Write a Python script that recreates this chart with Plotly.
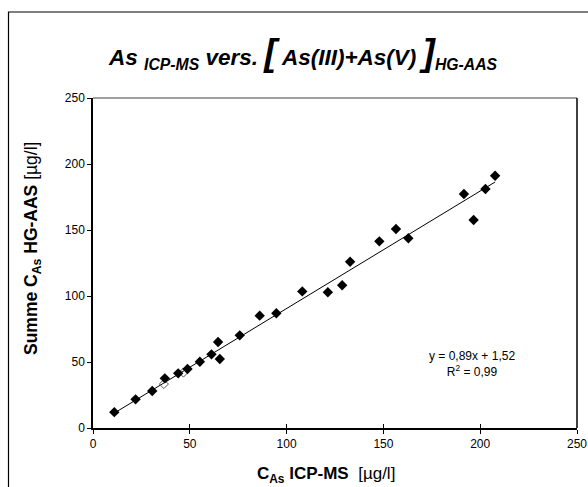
import plotly.graph_objects as go

# values
icp_ms = [11, 22, 30.6, 37.1, 44, 48.8, 55.2, 61.2, 64.6, 65.5, 75.8, 86.1, 94.7,
          108.1, 121.3, 128.7, 132.8, 147.9, 156.5, 162.9, 191.6, 196.6, 202.7, 207.7]
hg_aas = [12, 21.7, 28, 37.6, 41.4, 44.7, 50.2, 55.8, 65.2, 52.3, 70.2, 85.1, 86.9,
          103.5, 102.8, 108.1, 126, 141.4, 150.8, 143.7, 177.3, 157.6, 181.1, 191.1]
# two markers that are mostly covered in the original
faint_x = [36.6, 46.7]
faint_y = [33.3, 42]

slope = 0.89
intercept = 1.52
r_squared = 0.99

x_ticks = [0, 50, 100, 150, 200, 250]
y_ticks = [0, 50, 100, 150, 200, 250]

font_family = "Arial, Liberation Sans, sans-serif"
width, height = 588, 487
margin = dict(l=93, r=11, t=98, b=59)
plot_w = width - margin['l'] - margin['r']
plot_h = height - margin['t'] - margin['b']


def px_x(p):
    # window pixel -> paper x
    return (p - margin['l']) / plot_w


def px_y(p):
    # window pixel -> paper y
    return (height - margin['b'] - p) / plot_h


def fmt(v):
    return f"{v:.2f}".replace('.', ',')


trend_x = [min(icp_ms), max(icp_ms)]
trend_y = [slope * v + intercept for v in trend_x]

fig = go.Figure()
fig.add_trace(go.Scatter(x=trend_x, y=trend_y, mode='lines',
                         line=dict(color='black', width=1), showlegend=False,
                         hoverinfo='skip'))
fig.add_trace(go.Scatter(x=faint_x, y=faint_y, mode='markers',
                         marker=dict(symbol='diamond-open', size=7, color='#555555',
                                     line=dict(width=1)),
                         showlegend=False))
fig.add_trace(go.Scatter(x=icp_ms, y=hg_aas, mode='markers',
                         marker=dict(symbol='diamond', size=8, color='black'),
                         showlegend=False))
# empty trace on a second x axis to draw the inner half of the crossing ticks
fig.add_trace(go.Scatter(x=[None], y=[None], xaxis='x2', showlegend=False))

title = ("<b><i>As <sub>ICP-MS</sub> vers. "
         "<span style='font-size:37px'>[</span> As(III)+As(V) "
         "<span style='font-size:37px'>]</span><sub>HG-AAS</sub></i></b>")

fig.update_layout(
    width=width, height=height, margin=margin,
    paper_bgcolor='white', plot_bgcolor='white',
    font=dict(family=font_family, color='black', size=12),
    xaxis=dict(range=[0, 250], tickvals=x_ticks, ticks='outside', ticklen=4,
               tickcolor='black', showline=True, linecolor='black', linewidth=1.5,
               showgrid=False, zeroline=False, tickfont=dict(size=12),
               automargin=False),
    xaxis2=dict(range=[0, 250], tickvals=x_ticks, ticks='inside', ticklen=4,
                tickcolor='black', overlaying='x', side='bottom', showticklabels=False,
                showgrid=False, zeroline=False, showline=False, automargin=False),
    yaxis=dict(range=[0, 250], tickvals=y_ticks, ticks='outside', ticklen=4,
               tickcolor='black', showline=True, linecolor='black', linewidth=1.5,
               showgrid=False, zeroline=False, tickfont=dict(size=12),
               automargin=False),
    annotations=[
        dict(text=title, xref='paper', yref='paper', showarrow=False,
             x=px_x(303), y=px_y(53), xanchor='center', yanchor='middle',
             font=dict(size=22.5)),
        dict(text="<b>C<sub>As</sub> ICP-MS</b>  [µg/l]", xref='paper', yref='paper',
             showarrow=False, x=px_x(326), y=px_y(475), xanchor='center',
             yanchor='middle', font=dict(size=17)),
        dict(text="<b>Summe C<sub>As</sub> HG-AAS</b> [µg/l]", xref='paper', yref='paper',
             showarrow=False, x=px_x(33), y=px_y(249), xanchor='center',
             yanchor='middle', textangle=-90, font=dict(size=17.5)),
        dict(text=f"y = {fmt(slope)}x + {fmt(intercept)}<br>R<sup>2</sup> = {fmt(r_squared)}",
             xref='paper', yref='paper', showarrow=False, align='center',
             x=px_x(472), y=px_y(364), xanchor='center', yanchor='middle',
             font=dict(size=12)),
    ],
    shapes=[
        # top and right border of the plot area
        dict(type='line', xref='paper', yref='paper', x0=0, x1=1, y0=1, y1=1,
             line=dict(color='#808080', width=1.5)),
        dict(type='line', xref='paper', yref='paper', x0=1, x1=1, y0=0, y1=1,
             line=dict(color='black', width=1.5)),
        # outer chart frame
        dict(type='rect', xref='paper', yref='paper',
             x0=px_x(8.5), x1=px_x(600), y0=px_y(500), y1=px_y(12),
             line=dict(color='black', width=1.2)),
    ],
)

# drop the default body margin so the figure fills the window exactly
fig.write_html("out.html", config={'displayModeBar': False},
               post_script="document.body.style.margin='0';")
